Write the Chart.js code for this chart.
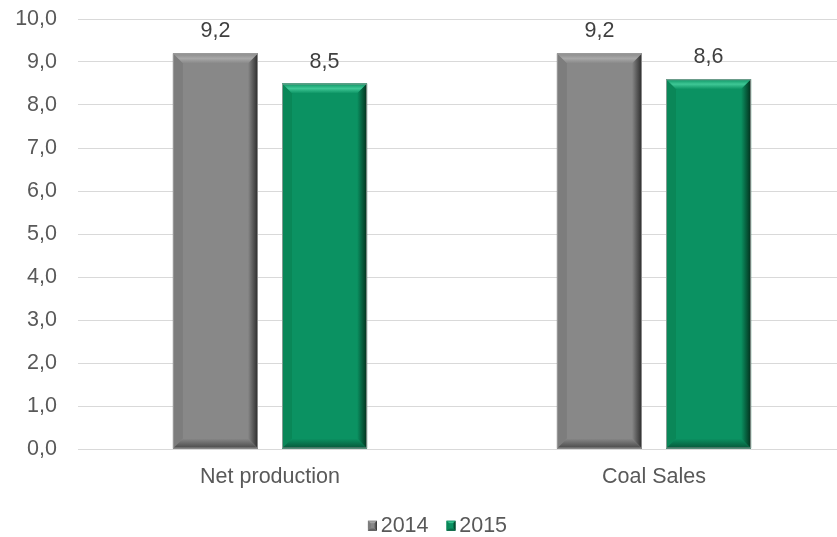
<!DOCTYPE html>
<html>
<head>
<meta charset="utf-8">
<script src="https://cdn.jsdelivr.net/npm/chart.js@4/dist/chart.umd.min.js"></script>
<style>
  html, body { margin: 0; padding: 0; background: #fff; overflow: hidden; }
  #wrap { width: 846px; height: 537px; }
</style>
</head>
<body>
<div id="wrap"><canvas id="barChart"></canvas></div>
<script>
const categories = ["Net production", "Coal Sales"];
const years = ["2014", "2015"];
const values2014 = [9.2, 9.2];
const values2015 = [8.5, 8.6];

const fmt = v => v.toFixed(1).replace(".", ",");
const FONT = "'Liberation Sans', Arial, sans-serif";
const FSIZE = 21.5;

// bevel look for each series
const bevels = [
  { face: "#888888", top: "#a8a8a8", left: "#7d7d7d", right: "#2a2a2a", bottom: "#484848" },
  { face: "#0b9262", top: "#3ec795", left: "#0a8758", right: "#022e1b", bottom: "#055538" }
];

function bevelRect(ctx, l, t, r, b, s, c, outline) {
  ctx.save();
  ctx.fillStyle = c.face;
  ctx.fillRect(l, t, r - l, b - t);
  // top
  let g = ctx.createLinearGradient(0, t, 0, t + s);
  g.addColorStop(0, c.face);
  g.addColorStop(0.5, c.top);
  g.addColorStop(1, c.face);
  ctx.fillStyle = g;
  ctx.beginPath();
  ctx.moveTo(l, t); ctx.lineTo(r, t); ctx.lineTo(r - s, t + s); ctx.lineTo(l + s, t + s);
  ctx.closePath(); ctx.fill();
  // left
  ctx.fillStyle = c.left;
  ctx.beginPath();
  ctx.moveTo(l, t); ctx.lineTo(l + s, t + s); ctx.lineTo(l + s, b - s); ctx.lineTo(l, b);
  ctx.closePath(); ctx.fill();
  // right, gradient to dark
  g = ctx.createLinearGradient(r - s, 0, r, 0);
  g.addColorStop(0, c.face);
  g.addColorStop(1, c.right);
  ctx.fillStyle = g;
  ctx.beginPath();
  ctx.moveTo(r, t); ctx.lineTo(r - s, t + s); ctx.lineTo(r - s, b - s); ctx.lineTo(r, b);
  ctx.closePath(); ctx.fill();
  // bottom
  g = ctx.createLinearGradient(0, b - s, 0, b);
  g.addColorStop(0, c.face);
  g.addColorStop(1, c.bottom);
  ctx.fillStyle = g;
  ctx.beginPath();
  ctx.moveTo(l, b); ctx.lineTo(r, b); ctx.lineTo(r - s, b - s); ctx.lineTo(l + s, b - s);
  ctx.closePath(); ctx.fill();
  if (outline) {
    ctx.strokeStyle = "rgba(160,160,160,0.8)";
    ctx.lineWidth = 1;
    ctx.strokeRect(l + 0.5, t + 0.5, r - l - 1, b - t - 1);
  }
  ctx.restore();
}

const bevelPlugin = {
  id: "bevel",
  beforeUpdate(chart) {
    // fixed legend height so it sits near the bottom edge
    const lg = chart.legend;
    if (lg && !lg._patched) {
      const fit = lg.fit.bind(lg);
      lg.fit = function () { fit(); this.height = 41; };
      lg._patched = true;
    }
  },
  afterLayout(chart) {
    // nudge legend right a bit, like the original
    const lg = chart.legend;
    if (lg) { lg.left += 15; lg.right += 15; }
  },
  afterDatasetsDraw(chart) {
    const ctx = chart.ctx;
    chart.data.datasets.forEach((ds, i) => {
      chart.getDatasetMeta(i).data.forEach((bar, j) => {
        const l = bar.x - bar.width / 2, r = bar.x + bar.width / 2;
        bevelRect(ctx, l, bar.y, r, bar.base, 10, bevels[i], true);
        ctx.save();
        ctx.fillStyle = "#404040";
        ctx.font = FSIZE + "px " + FONT;
        ctx.textAlign = "center";
        ctx.textBaseline = "alphabetic";
        ctx.fillText(fmt(ds.data[j]), bar.x, bar.y - 16);
        ctx.restore();
      });
    });
  },
  afterDraw(chart) {
    // legend boxes drawn close to the text, with bevel
    const lg = chart.legend;
    if (!lg || !lg.legendHitBoxes) return;
    lg.legendHitBoxes.forEach((hb, i) => {
      const y = hb.top + (hb.height - 10) / 2;
      bevelRect(chart.ctx, hb.left - 1, y, hb.left + 8, y + 10, 3, bevels[i], false);
    });
  }
};

new Chart(document.getElementById("barChart"), {
  type: "bar",
  data: {
    labels: categories,
    datasets: [
      { label: years[0], data: values2014, backgroundColor: bevels[0].face },
      { label: years[1], data: values2015, backgroundColor: bevels[1].face }
    ]
  },
  options: {
    responsive: true,
    maintainAspectRatio: false,
    animation: false,
    layout: { padding: { left: 0, right: 0, top: 19, bottom: 0 } },
    categoryPercentage: 0.568,
    barPercentage: 0.78,
    plugins: {
      legend: {
        position: "bottom",
        labels: {
          boxWidth: 1,
          boxHeight: 10,
          padding: 19,
          color: "#595959",
          generateLabels(chart) {
            return chart.data.datasets.map((ds, i) => ({
              text: ds.label,
              fillStyle: "rgba(0,0,0,0)",
              strokeStyle: "rgba(0,0,0,0)",
              lineWidth: 0,
              fontColor: "#595959",
              datasetIndex: i
            }));
          },
          font: { size: FSIZE, family: FONT }
        }
      },
      tooltip: { enabled: false }
    },
    scales: {
      x: {
        afterFit(scale) { scale.height = 47; },
        grid: { display: false },
        border: { display: false },
        ticks: {
          color: "#595959",
          padding: 7,
          font: { size: FSIZE, family: FONT }
        }
      },
      y: {
        min: 0,
        max: 10,
        afterFit(scale) {
          scale.width = 78;
          scale.paddingTop = 0;
          scale.paddingBottom = 0;
        },
        grid: { color: "#d9d9d9", drawTicks: false },
        border: { display: false },
        ticks: {
          stepSize: 1,
          padding: 21,
          color: "#595959",
          font: { size: FSIZE, family: FONT },
          callback: v => fmt(v)
        }
      }
    }
  },
  plugins: [bevelPlugin]
});
</script>
</body>
</html>
